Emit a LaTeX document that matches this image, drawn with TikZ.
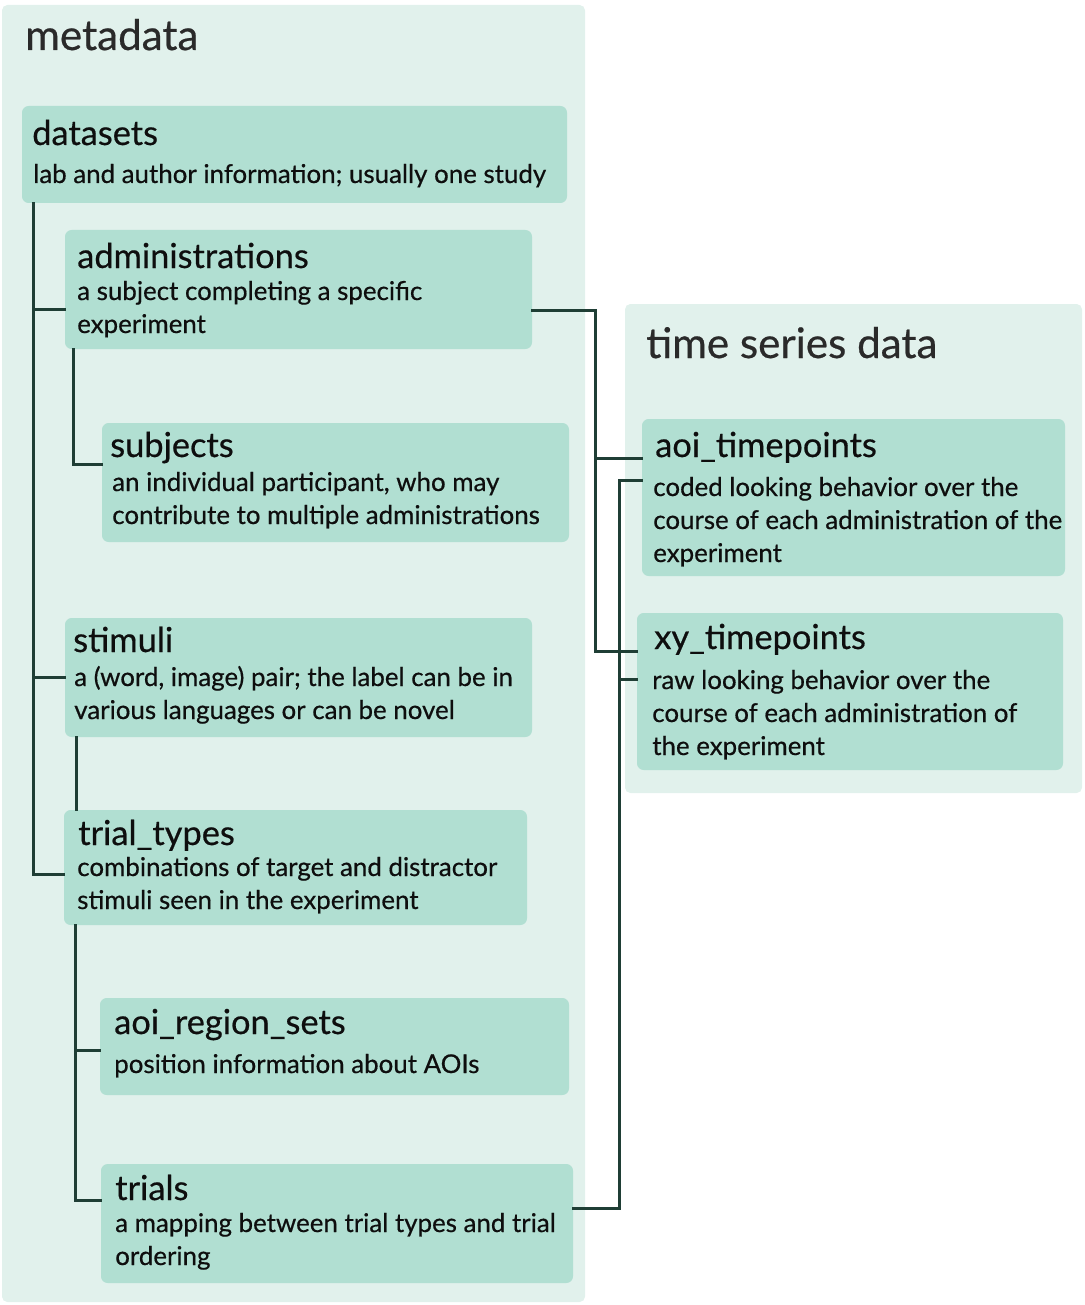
\documentclass[tikz,border=0pt]{standalone}
\usepackage{fontspec}
\setmainfont{Lato}[FakeBold=0.5]
\usetikzlibrary{fit,calc}
\definecolor{panelbg}{HTML}{E1F1EC}
\definecolor{boxbg}{HTML}{B1DFD2}
\definecolor{connc}{HTML}{1F3E35}
\definecolor{hdrc}{HTML}{2A2A2A}
\definecolor{txtc}{HTML}{0E0E0E}
\begin{document}
\begin{tikzpicture}[x=0.75pt,y=-0.75pt,
  panel/.style={fill=panelbg,draw=none,rounded corners=4pt,inner sep=0pt},
  box/.style={fill=boxbg,draw=none,rounded corners=5pt,inner sep=0pt},
  hdr/.style={anchor=base west,inner sep=0pt,text=hdrc,font=\fontsize{31.6}{36}\selectfont},
  ttl/.style={anchor=base west,inner sep=0pt,text=txtc,font=\fontsize{25.8}{30}\selectfont},
  dsc/.style={anchor=base west,inner sep=0pt,text=txtc,align=left,font=\fontsize{19.4}{24.75}\selectfont},
  conn/.style={draw=connc,line width=1.9pt,line cap=rect,line join=miter}]
\useasboundingbox (0,0) rectangle (1084,1305);
% panels
\node[panel,fit={(2,5) (585,1302)}] (meta) {};
\node[panel,fit={(625,304) (1082,793)}] (ts) {};
\node[hdr] (metaT) at (25,50) {metadata};
\node[hdr] (tsT) at (646,358) {time series data};
% boxes
\node[box,fit={(22,106) (567,203)}] (ds) {};
\node[box,fit={(65,230) (532,349)}] (ad) {};
\node[box,fit={(102,423) (569,542)}] (su) {};
\node[box,fit={(65,618) (532,737)}] (st) {};
\node[box,fit={(64,810) (527,925)}] (tt) {};
\node[box,fit={(100,998) (569,1095)}] (ar) {};
\node[box,fit={(101,1164) (573,1283)}] (tr) {};
\node[box,fit={(642,419) (1065,576)}] (at) {};
\node[box,fit={(637,613) (1063,770)}] (xy) {};
% texts (multi-line blocks are anchored at the baseline of their last line)
\node[ttl] (dsT) at (32,145) {datasets};
\node[dsc] (dsD) at (33,183) {lab and author information; usually one study};
\node[ttl] (adT) at (77,268) {administrations};
\node[dsc] (adD) at (77,333) {a subject completing a specific\\experiment};
\node[ttl] (suT) at (110,457) {subjects};
\node[dsc] (suD) at (112,524) {an individual participant, who may\\contribute to multiple administrations};
\node[ttl] (stT) at (73,652) {stimuli};
\node[dsc] (stD) at (74,719) {a (word, image) pair; the label can be in\\various languages or can be novel};
\node[ttl] (ttT) at (78,845) {trial\_types};
\node[dsc] (ttD) at (77,909) {combinations of target and distractor\\stimuli seen in the experiment};
\node[ttl] (arT) at (114,1034) {aoi\_region\_sets};
\node[dsc] (arD) at (114,1073) {position information about AOIs};
\node[ttl] (trT) at (115,1200) {trials};
\node[dsc] (trD) at (115,1265) {a mapping between trial types and trial\\ordering};
\node[ttl] (atT) at (655,457) {aoi\_timepoints};
\node[dsc] (atD) at (653,562) {coded looking behavior over the\\course of each administration of the\\experiment};
\node[ttl] (xyT) at (654,649) {xy\_timepoints};
\node[dsc] (xyD) at (652,755) {raw looking behavior over the\\course of each administration of\\the experiment};
% connector points
\coordinate (t1) at ($(ds.south west)+(12,0)$);
\coordinate (adL) at ($(ad.north west)+(0,80)$);
\coordinate (stL) at ($(st.north west)+(0,60)$);
\coordinate (ttL) at ($(tt.north west)+(0,65)$);
\coordinate (t2) at ($(ad.south west)+(9,0)$);
\coordinate (suL) at ($(su.north west)+(0,42)$);
\coordinate (t3) at ($(st.south west)+(12,0)$);
\coordinate (t4) at ($(tt.south west)+(12,0)$);
\coordinate (arL) at ($(ar.north west)+(0,53)$);
\coordinate (trL) at ($(tr.north west)+(0,37)$);
\coordinate (adR) at ($(ad.north east)+(0,81)$);
\coordinate (atL1) at ($(at.north west)+(0,40)$);
\coordinate (xyL1) at ($(xy.north west)+(0,39)$);
\coordinate (trR) at ($(tr.north east)+(0,45)$);
\coordinate (atL2) at ($(at.north west)+(0,62)$);
\coordinate (xyL2) at ($(xy.north west)+(0,67)$);
\coordinate (v1) at ($(adR)+(63,0)$);
\coordinate (v2) at ($(trR)+(46,0)$);
% connectors
\draw[conn] (t1) |- (ttL);
\draw[conn] (t1 |- adL) -- (adL);
\draw[conn] (t1 |- stL) -- (stL);
\draw[conn] (t2) |- (suL);
\draw[conn] (t3) -- (t3 |- tt.north);
\draw[conn] (t4) |- (trL);
\draw[conn] (t4 |- arL) -- (arL);
\draw[conn] (adR) -- (v1) |- (xyL1);
\draw[conn] (v1 |- atL1) -- (atL1);
\draw[conn] (trR) -- (v2) |- (atL2);
\draw[conn] (v2 |- xyL2) -- (xyL2);
\end{tikzpicture}
\end{document}
